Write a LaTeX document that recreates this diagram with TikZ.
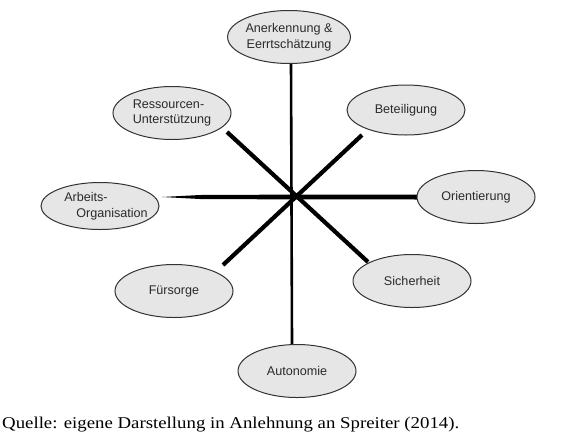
\documentclass[tikz,border=0pt]{standalone}
\usepackage{fontspec}
\setmainfont{Liberation Serif}[FakeStretch=1.14]
\newfontfamily\lsans{Liberation Sans}
\usetikzlibrary{shapes.geometric}
\definecolor{efill}{HTML}{E6E6E6}
\definecolor{eline}{HTML}{333333}
\definecolor{etext}{HTML}{2A2A2A}
\tikzset{
  bub/.style={ellipse, draw=eline, fill=efill, line width=1pt, minimum width=118pt, minimum height=53pt, inner sep=0pt, align=center, font=\lsans\fontsize{12.6}{15.8}\selectfont, text=etext},
  spoke/.style={line width=4.2pt, black},
  thinspoke/.style={line width=2.6pt, black}
}
\begin{document}
\begin{tikzpicture}[x=1pt,y=-1pt]
\useasboundingbox (0,0) rectangle (569,442);
\fill[white] (0,0) rectangle (569,442);
% endpoints
\coordinate (hub) at (293,197);
\coordinate (topE) at (291,62);
\coordinate (botE) at (292,344);
\coordinate (resE) at (227,132);
\coordinate (sicE) at (368,262);
\coordinate (betE) at (362,135);
\coordinate (fueE) at (223,265);
\coordinate (arbE) at (162,197);
\coordinate (oriE) at (421,197);
% spokes
\draw[thinspoke] (topE) -- (botE);
\draw[spoke] (resE) -- (sicE);
\draw[spoke] (betE) -- (fueE);
\fill[black] (arbE) -- (200,195) -- (293,194.6) -- (oriE |- 0,194.5) -- (oriE |- 0,199.5) -- (293,199.4) -- (200,199) -- cycle;
% nodes
\node[bub] (anerk) at (289,37) {Anerkennung \&\\Eerrtschätzung};
\node[bub, align=left] (ress) at (172,113) {Ressourcen-\\Unterstützung};
\node[bub, minimum height=47pt, align=left, inner xsep=-14pt] (arb) at (100,206) {\hspace*{12pt}Arbeits-\\\hspace*{24pt}Organisation};
\node[bub, minimum height=50pt] (bet) at (406,110) {Beteiligung};
\node[bub] (ori) at (476,197) {Orientierung};
\node[bub] (sich) at (412,281) {Sicherheit};
\node[bub] (fuer) at (174,291) {Fürsorge};
\node[bub] (auto) at (297,371) {Autonomie};
% caption
\node[anchor=base west, inner sep=0pt, font=\fontsize{16.5}{19}\selectfont] (cap) at (2,428) {Quelle: eigene Darstellung in Anlehnung an Spreiter (2014).};
\end{tikzpicture}
\end{document}
